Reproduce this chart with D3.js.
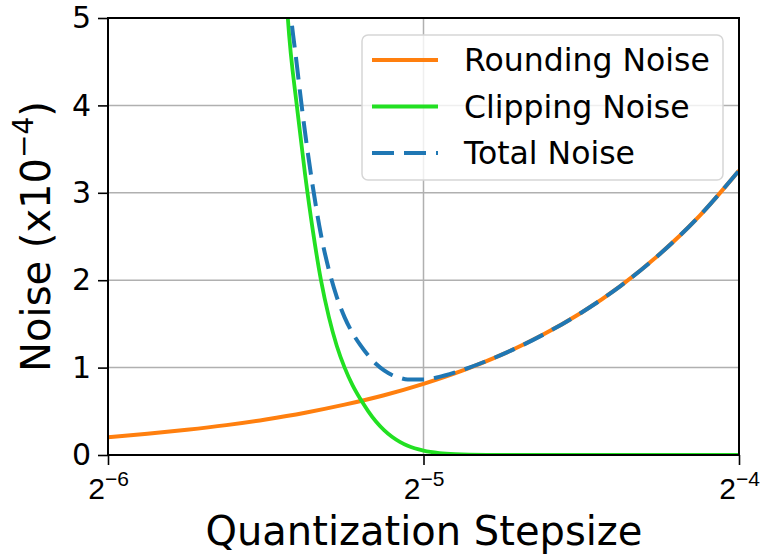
<!DOCTYPE html>
<html>
<head>
<meta charset="utf-8">
<script src="https://cdn.jsdelivr.net/npm/d3@7"></script>
<style>
  body { margin: 0; background: #fff; }
  svg { font-family: "DejaVu Sans", sans-serif; }
</style>
</head>
<body>
<svg id="chart" width="766" height="556"></svg>
<script>
// step size exponents (log2) and noise values (x1e-4)
var roundExp = [-6, -5.875, -5.75, -5.625, -5.5, -5.375, -5.25, -5.125, -5, -4.875, -4.75, -4.625, -4.5, -4.375, -4.25, -4.125, -4];
var roundVals = [0.204, 0.242, 0.288, 0.342, 0.407, 0.484, 0.576, 0.684, 0.814, 0.968, 1.151, 1.369, 1.628, 1.936, 2.302, 2.737, 3.255];

var clipExp = [-5.45, -5.43, -5.4, -5.375, -5.35, -5.325, -5.3, -5.275, -5.25, -5.225, -5.2, -5.175, -5.15, -5.125, -5.1, -5.075, -5.05, -5, -4.95, -4.9, -4.8, -4.7, -4.6, -4.5, -4.375, -4.25, -4.125, -4];
var clipVals = [6.3, 5.0, 3.95, 3.2, 2.55, 2.0, 1.58, 1.25, 1.0, 0.8, 0.64, 0.5, 0.38, 0.284, 0.208, 0.15, 0.105, 0.05, 0.022, 0.0096, 0.0017, 0.0003, 0, 0, 0, 0, 0, 0];
var totalVals = [6.74, 5.45, 4.42, 3.68, 3.05, 2.52, 2.12, 1.81, 1.575, 1.396, 1.257, 1.139, 1.041, 0.968, 0.916, 0.883, 0.864, 0.864, 0.894, 0.945, 1.076, 1.233, 1.417, 1.628, 1.936, 2.302, 2.737, 3.255];

var xTickExp = [-6, -5, -4];
var yTicks = [0, 1, 2, 3, 4, 5];
var seriesNames = ["Rounding Noise", "Clipping Noise", "Total Noise"];
var seriesColors = ["#ff7f0e", "#22e022", "#1f77b4"];

var margin = {top: 18, right: 27, bottom: 101, left: 108};
var width = 766 - margin.left - margin.right;
var height = 556 - margin.top - margin.bottom;

var svg = d3.select("#chart");

var x = d3.scaleLog().base(2).domain([Math.pow(2, -6), Math.pow(2, -4)]).range([0, width]);
var y = d3.scaleLinear().domain([0, 5]).range([height, 0]);

var main = svg.append("g")
  .attr("transform", "translate(" + margin.left + "," + margin.top + ")");

svg.append("defs").append("clipPath").attr("id", "plotclip")
  .append("rect").attr("x", 0).attr("y", 0).attr("width", width).attr("height", height);

// grid
main.append("g").selectAll("line.gy").data(yTicks).enter().append("line")
  .attr("x1", 0).attr("x2", width)
  .attr("y1", function(d) { return y(d); }).attr("y2", function(d) { return y(d); })
  .attr("stroke", "#b0b0b0").attr("stroke-width", 1.5);
main.append("g").selectAll("line.gx").data(xTickExp).enter().append("line")
  .attr("x1", function(d) { return x(Math.pow(2, d)); }).attr("x2", function(d) { return x(Math.pow(2, d)); })
  .attr("y1", 0).attr("y2", height)
  .attr("stroke", "#b0b0b0").attr("stroke-width", 1.5);

// lines
var line = d3.line()
  .x(function(d) { return x(Math.pow(2, d[0])); })
  .y(function(d) { return y(d[1]); })
  .curve(d3.curveMonotoneX);

var lines = main.append("g").attr("clip-path", "url(#plotclip)");

lines.append("path")
  .datum(d3.zip(roundExp, roundVals))
  .attr("d", line).attr("fill", "none")
  .attr("stroke", seriesColors[0]).attr("stroke-width", 4);

lines.append("path")
  .datum(d3.zip(clipExp, clipVals))
  .attr("d", line).attr("fill", "none")
  .attr("stroke", seriesColors[1]).attr("stroke-width", 3.8);

lines.append("path")
  .datum(d3.zip(clipExp, totalVals))
  .attr("d", line).attr("fill", "none")
  .attr("stroke", seriesColors[2]).attr("stroke-width", 4)
  .attr("stroke-dasharray", "22,10");

// axes
var xAxis = d3.axisBottom(x)
  .tickValues(xTickExp.map(function(e) { return Math.pow(2, e); }))
  .tickSize(10).tickFormat("");
var gx = main.append("g").attr("transform", "translate(0," + height + ")").call(xAxis);

var yAxis = d3.axisLeft(y).tickValues(yTicks).tickSize(10).tickFormat(d3.format("d"));
var gy = main.append("g").call(yAxis);

[gx, gy].forEach(function(g) {
  g.select(".domain").remove();
  g.selectAll(".tick line").attr("stroke", "#000").attr("stroke-width", 1.6);
});
gy.selectAll(".tick text").attr("x", -17).attr("font-size", 30)
  .attr("font-family", "DejaVu Sans").attr("fill", "#000");

// x tick labels 2^e
gx.selectAll(".tick").each(function(d, i) {
  var t = d3.select(this).append("text")
    .attr("y", 44).attr("text-anchor", "middle")
    .attr("font-size", 30).attr("fill", "#000");
  t.append("tspan").text("2");
  t.append("tspan").attr("dy", -13).attr("font-size", 21).text("\u2212" + Math.abs(xTickExp[i]));
});

// spines
main.append("rect").attr("x", 0).attr("y", 0).attr("width", width).attr("height", height)
  .attr("fill", "none").attr("stroke", "#000").attr("stroke-width", 2);

// axis labels
svg.append("text")
  .attr("x", 424).attr("y", 545)
  .attr("text-anchor", "middle").attr("font-size", 40)
  .text("Quantization Stepsize");

var yl = svg.append("text")
  .attr("transform", "translate(50," + (margin.top + height / 2) + ") rotate(-90)")
  .attr("text-anchor", "middle").attr("font-size", 40);
yl.append("tspan").text("Noise (x10");
yl.append("tspan").attr("dy", -17).attr("font-size", 28).text("\u22124");
yl.append("tspan").attr("dy", 17).text(")");

// legend
var legend = svg.append("g").attr("transform", "translate(362,35)");
legend.append("rect").attr("width", 361).attr("height", 145).attr("rx", 6)
  .attr("fill", "#fff").attr("fill-opacity", 0.8)
  .attr("stroke", "#d6d6d6").attr("stroke-width", 1.5);
seriesNames.forEach(function(name, i) {
  var row = legend.append("g").attr("transform", "translate(0," + (25 + i * 46.5) + ")");
  row.append("line").attr("x1", 10).attr("x2", 76).attr("y1", 0).attr("y2", 0)
    .attr("stroke", seriesColors[i]).attr("stroke-width", 4)
    .attr("stroke-dasharray", i === 2 ? "22,10" : null);
  row.append("text").attr("x", 102).attr("y", 11).attr("font-size", 31.5).text(name);
});
</script>
</body>
</html>
